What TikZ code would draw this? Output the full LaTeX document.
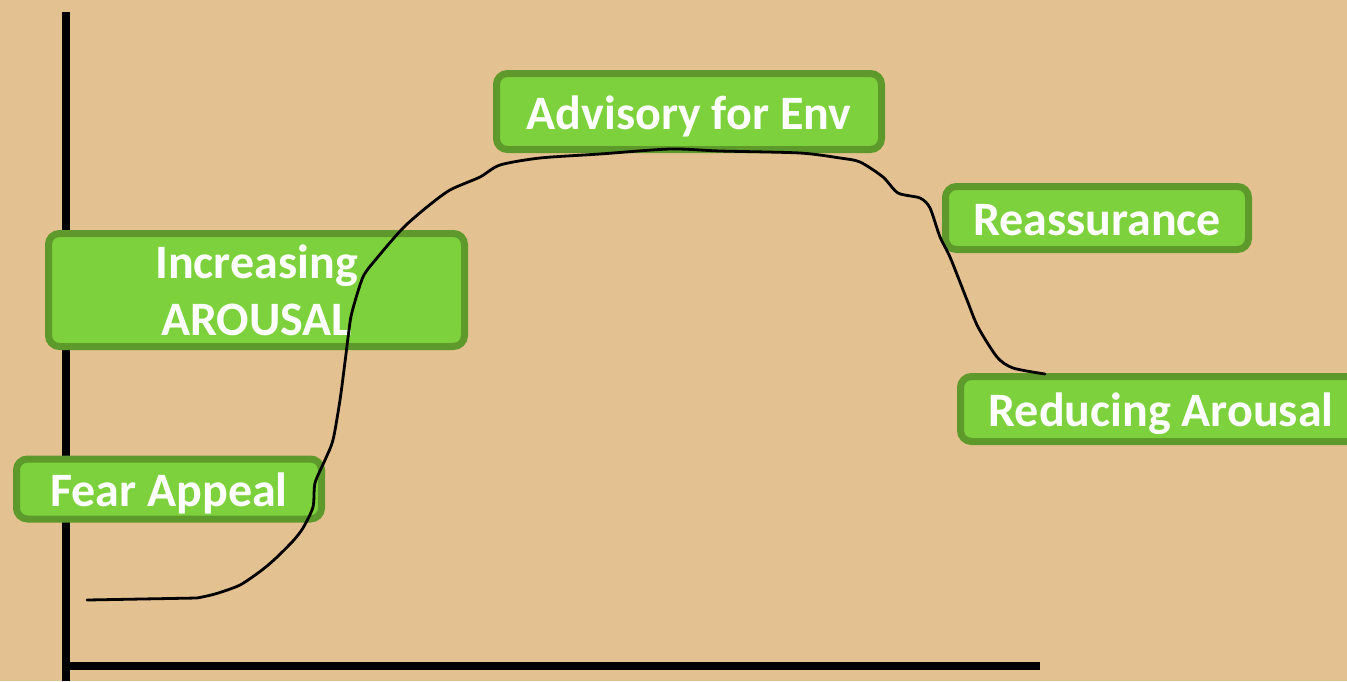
\documentclass[tikz,border=0pt]{standalone}
\usepackage{fontspec}
\setmainfont{Carlito}
\definecolor{paper}{HTML}{E3C190}
\definecolor{boxfill}{HTML}{7CD13C}
\definecolor{boxedge}{HTML}{5E9A2B}
\begin{document}
\begin{tikzpicture}[x=1pt,y=-1pt,
  boxbase/.style={draw=boxedge, fill=boxfill, line width=7pt, rounded corners=11pt,
    text=white, font=\fontsize{48}{57}\selectfont\bfseries, inner sep=0pt, align=center},
  stage/.style={boxbase, text height=35pt, text depth=0pt},
  axis/.style={line width=8.5pt, black},
  curve/.style={line width=2.8pt, black, line join=round, line cap=round}]
  % page and background
  \useasboundingbox (0,0) rectangle (1347,681);
  \clip (0,0) rectangle (1347,681);
  \fill[paper] (0,0) rectangle (1347,681);

  % axes
  \coordinate (ytop) at (66,12);
  \coordinate (ybot) at (66,681);
  \coordinate (xstart) at (62,666);
  \coordinate (xend) at (1040,666);
  \draw[axis] (ytop) -- (ybot);
  \draw[axis] (xstart) -- (xend);

  % stage labels
  \node[stage, minimum width=305pt, minimum height=60pt] (fear) at (169,489) {Fear Appeal};
  \node[boxbase, minimum width=416pt, minimum height=113pt] (incr) at (256.5,290) {Increasing\\AROUSAL};
  \node[stage, minimum width=385pt, minimum height=76pt] (adv) at (689,111.5) {Advisory for Env};
  \node[stage, minimum width=303pt, minimum height=63pt] (reas) at (1097,218) {Reassurance};
  \node[stage, minimum width=401pt, minimum height=65pt] (red) at (1161,409) {Reducing Arousal};

  % arousal curve
  \coordinate (cstart) at (87,600);
  \coordinate (cend) at (1045,374);
  \draw[curve] (cstart) -- (197,598)
    plot[smooth, tension=0.45] coordinates {(197,598) (215,594) (240,585) (262,570) (276,558) (293,541) (303,528)
      (313,507) (315,483) (325,460) (333,440) (340,400) (345,362) (349,330) (352,312)
      (363,277) (377,258) (403,228) (427,207) (450,190) (480,177) (500,165) (540,158)
      (600,154) (670,149) (720,151) (800,153) (840,158) (860,162) (883,177) (898,193)
      (920,198) (930,208) (940,237) (950,257) (967,300) (978,327) (997,357) (1013,368) (cend)};
\end{tikzpicture}
\end{document}
